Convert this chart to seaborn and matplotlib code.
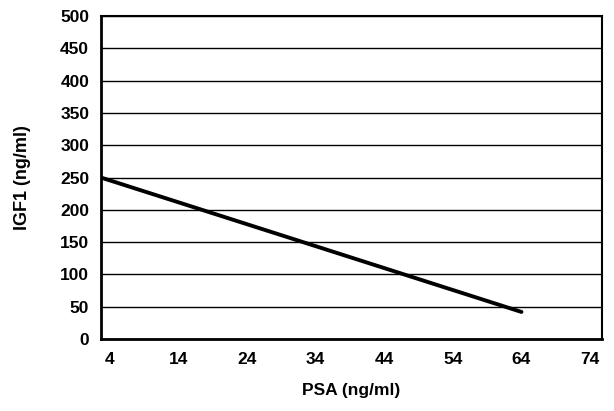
import pandas as pd
import matplotlib
matplotlib.use("Agg")
import matplotlib.pyplot as plt
import seaborn as sns

# regression line, PSA vs IGF1
psa = [2.7, 64]
igf1 = [250, 42]
x_ticks = [4, 14, 24, 34, 44, 54, 64, 74]
y_ticks = [0, 50, 100, 150, 200, 250, 300, 350, 400, 450, 500]

df = pd.DataFrame({"PSA": psa, "IGF1": igf1})

sns.set_style("white")
plt.rcParams['font.family'] = ['Liberation Sans', 'DejaVu Sans']
plt.rcParams['text.color'] = 'black'
plt.rcParams['axes.labelcolor'] = 'black'
plt.rcParams['xtick.color'] = 'black'
plt.rcParams['ytick.color'] = 'black'

fig = plt.figure(figsize=(6.14, 4.11), dpi=100)
ax = fig.add_axes([0.1645, 0.175, 0.8155, 0.786])

sns.lineplot(data=df, x="PSA", y="IGF1", ax=ax, color="black", linewidth=2.8)

ax.set_xlim(2.7, 75.7)
ax.set_ylim(0, 500)
ax.set_xticks(x_ticks)
ax.set_yticks(y_ticks)
ax.set_xticklabels([str(t) for t in x_ticks], fontsize=12.5, fontweight="bold")
ax.set_yticklabels([str(t) for t in y_ticks], fontsize=12.5, fontweight="bold")
ax.tick_params(axis="x", length=0, pad=9)
ax.tick_params(axis="y", length=0, pad=8.5)

ax.yaxis.grid(True, color="black", linewidth=1)
ax.xaxis.grid(False)
ax.set_axisbelow(True)

for side in ["left", "bottom"]:
    ax.spines[side].set_linewidth(2)
for side in ["top", "right"]:
    ax.spines[side].set_linewidth(1.5)
for s in ax.spines.values():
    s.set_color("black")

ax.set_xlabel("PSA (ng/ml)", fontsize=12.5, fontweight="bold", labelpad=12)
ax.set_ylabel("IGF1 (ng/ml)", fontsize=13, fontweight="bold", labelpad=21)

plt.savefig("out.png", dpi=100)
plt.close()
